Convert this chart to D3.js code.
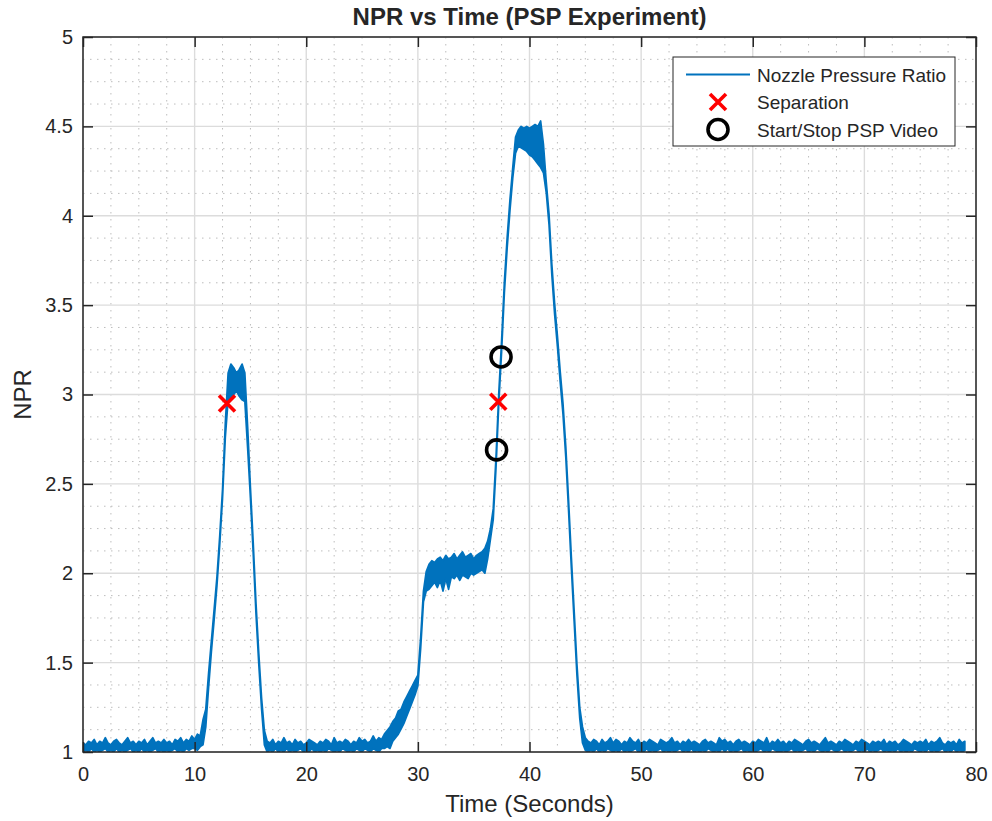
<!DOCTYPE html>
<html>
<head>
<meta charset="utf-8">
<script src="https://cdn.jsdelivr.net/npm/d3@7"></script>
<style>
  body { margin: 0; background: #fff; }
  svg { display: block; }
  text { font-family: "Liberation Sans", Arial, Helvetica, sans-serif; fill: #262626; }
</style>
</head>
<body>
<svg id="chart" width="992" height="821"></svg>
<script>
// ---- Data -----------------------------------------------------------------
// NPR trace sampled every 0.25 s from t = 0 s; each sample gives the low and
// high edge of the measured (noisy) signal within that interval.
const sampleStart = 0;
const sampleStep = 0.25;

const nprLow = [
  1.00,1.01,1.00,1.02,1.00,1.01,1.00,1.01,1.02,1.00,   // 0 - 2.25 s
  1.01,1.00,1.02,1.00,1.01,1.00,1.01,1.02,1.00,1.01,   // 2.5 - 4.75
  1.00,1.02,1.00,1.01,1.00,1.01,1.02,1.00,1.01,1.00,   // 5 - 7.25
  1.01,1.00,1.01,1.02,1.00,1.01,1.00,1.02,1.01,1.02,   // 7.5 - 9.75
  1.02,1.01,1.03,1.04,1.14,1.36,1.56,1.74,1.93,2.16,   // 10 - 12.25
  2.42,2.76,2.97,2.98,3.00,3.02,2.99,2.97,2.96,2.70,   // 12.5 - 14.75
  2.42,2.11,1.77,1.49,1.24,1.04,1.00,1.01,1.00,1.02,   // 15 - 17.25
  1.00,1.01,1.00,1.02,1.00,1.01,1.00,1.01,1.02,1.00,   // 17.5 - 19.75
  1.01,1.00,1.02,1.00,1.01,1.00,1.01,1.00,1.02,1.01,   // 20 - 22.25
  1.00,1.01,1.00,1.02,1.01,1.00,1.01,1.00,1.02,1.01,   // 22.5 - 24.75
  1.00,1.02,1.01,1.00,1.02,1.01,1.00,1.02,1.02,1.03,   // 25 - 27.25
  1.02,1.06,1.08,1.10,1.13,1.16,1.20,1.24,1.28,1.32,   // 27.5 - 29.75
  1.37,1.58,1.84,1.90,1.91,1.93,1.95,1.92,1.96,1.90,   // 30 - 32.25
  1.97,1.91,1.98,1.97,1.99,1.96,1.99,1.98,1.97,2.00,   // 32.5 - 34.75
  1.99,2.00,2.01,2.02,2.00,2.08,2.19,2.30,2.59,2.95,   // 35 - 37.25
  3.24,3.57,3.82,4.03,4.21,4.35,4.39,4.38,4.37,4.36,   // 37.5 - 39.75
  4.34,4.33,4.31,4.29,4.27,4.24,4.13,3.95,3.67,3.45,   // 40 - 42.25
  3.27,3.07,2.89,2.65,2.35,2.03,1.73,1.43,1.19,1.05,   // 42.5 - 44.75
  1.01,1.00,1.01,1.00,1.02,1.00,1.01,1.00,1.02,1.01,   // 45 - 47.25
  1.00,1.01,1.00,1.02,1.00,1.01,1.00,1.01,1.02,1.00,   // 47.5 - 49.75
  1.01,1.00,1.02,1.00,1.01,1.00,1.01,1.02,1.00,1.01,   // 50 - 52.25
  1.00,1.01,1.00,1.01,1.02,1.00,1.01,1.00,1.02,1.00,   // 52.5 - 54.75
  1.01,1.00,1.01,1.00,1.02,1.01,1.00,1.01,1.00,1.02,   // 55 - 57.25
  1.00,1.02,1.00,1.01,1.00,1.01,1.02,1.00,1.01,1.00,   // 57.5 - 59.75
  1.01,1.00,1.01,1.02,1.00,1.01,1.00,1.02,1.01,1.00,   // 60 - 62.25
  1.00,1.01,1.00,1.01,1.02,1.00,1.01,1.00,1.01,1.02,   // 62.5 - 64.75
  1.00,1.01,1.00,1.02,1.01,1.00,1.01,1.00,1.02,1.01,   // 65 - 67.25
  1.00,1.01,1.02,1.00,1.01,1.00,1.01,1.02,1.00,1.01,   // 67.5 - 69.75
  1.00,1.02,1.00,1.01,1.00,1.01,1.02,1.00,1.01,1.00,   // 70 - 72.25
  1.01,1.00,1.02,1.00,1.01,1.00,1.01,1.00,1.02,1.01,   // 72.5 - 74.75
  1.00,1.01,1.00,1.02,1.00,1.01,1.00,1.01,1.02,1.00,   // 75 - 77.25
  1.01,1.00,1.02,1.00,1.01,1.00,1.01                   // 77.5 - 79
];

const nprHigh = [
  1.05,1.04,1.06,1.05,1.07,1.04,1.06,1.05,1.08,1.05,   // 0 - 2.25 s
  1.04,1.06,1.07,1.05,1.04,1.06,1.08,1.05,1.06,1.04,   // 2.5 - 4.75
  1.06,1.05,1.07,1.04,1.06,1.08,1.05,1.06,1.05,1.07,   // 5 - 7.25
  1.05,1.06,1.04,1.07,1.06,1.08,1.05,1.07,1.06,1.09,   // 7.5 - 9.75
  1.07,1.10,1.09,1.18,1.24,1.44,1.62,1.80,1.98,2.21,   // 10 - 12.25
  2.47,2.84,3.12,3.17,3.15,3.12,3.14,3.17,3.12,2.82,   // 12.5 - 14.75
  2.48,2.17,1.83,1.55,1.30,1.12,1.06,1.05,1.07,1.04,   // 15 - 17.25
  1.06,1.05,1.08,1.05,1.06,1.04,1.07,1.05,1.06,1.04,   // 17.5 - 19.75
  1.05,1.07,1.06,1.05,1.04,1.06,1.05,1.07,1.06,1.04,   // 20 - 22.25
  1.08,1.05,1.06,1.05,1.07,1.06,1.04,1.06,1.05,1.08,   // 22.5 - 24.75
  1.06,1.07,1.05,1.06,1.09,1.06,1.08,1.07,1.10,1.12,   // 25 - 27.25
  1.14,1.17,1.19,1.23,1.24,1.28,1.31,1.34,1.37,1.40,   // 27.5 - 29.75
  1.43,1.64,1.90,2.01,2.05,2.07,2.06,2.08,2.09,2.07,   // 30 - 32.25
  2.10,2.08,2.09,2.11,2.08,2.10,2.12,2.09,2.10,2.11,   // 32.5 - 34.75
  2.08,2.10,2.11,2.12,2.14,2.18,2.25,2.36,2.65,3.01,   // 35 - 37.25
  3.30,3.63,3.88,4.09,4.27,4.44,4.48,4.50,4.49,4.50,   // 37.5 - 39.75
  4.49,4.50,4.51,4.50,4.53,4.40,4.19,4.01,3.73,3.51,   // 40 - 42.25
  3.33,3.13,2.95,2.71,2.41,2.09,1.79,1.49,1.25,1.14,   // 42.5 - 44.75
  1.08,1.06,1.05,1.07,1.06,1.04,1.07,1.05,1.06,1.08,   // 45 - 47.25
  1.05,1.07,1.06,1.04,1.06,1.05,1.08,1.06,1.05,1.07,   // 47.5 - 49.75
  1.04,1.06,1.05,1.07,1.06,1.05,1.04,1.07,1.06,1.05,   // 50 - 52.25
  1.06,1.08,1.05,1.06,1.04,1.06,1.05,1.07,1.05,1.06,   // 52.5 - 54.75
  1.05,1.04,1.06,1.07,1.05,1.06,1.05,1.04,1.08,1.06,   // 55 - 57.25
  1.07,1.05,1.06,1.04,1.06,1.07,1.05,1.06,1.05,1.04,   // 57.5 - 59.75
  1.06,1.05,1.07,1.06,1.05,1.08,1.04,1.06,1.05,1.07,   // 60 - 62.25
  1.05,1.06,1.04,1.06,1.05,1.07,1.06,1.05,1.04,1.06,   // 62.5 - 64.75
  1.07,1.05,1.06,1.05,1.04,1.06,1.08,1.05,1.06,1.05,   // 65 - 67.25
  1.04,1.06,1.05,1.07,1.06,1.05,1.04,1.06,1.05,1.07,   // 67.5 - 69.75
  1.06,1.05,1.04,1.06,1.05,1.06,1.05,1.07,1.04,1.06,   // 70 - 72.25
  1.05,1.06,1.04,1.05,1.07,1.06,1.05,1.04,1.06,1.05,   // 72.5 - 74.75
  1.06,1.05,1.07,1.04,1.06,1.05,1.06,1.08,1.05,1.04,   // 75 - 77.25
  1.06,1.05,1.06,1.04,1.07,1.05,1.06                   // 77.5 - 79
];

// Event markers
const separationTime = [12.9, 37.2];
const separationNpr  = [2.95, 2.96];
const videoTime = [37.05, 37.45];
const videoNpr  = [2.69, 3.21];

// Axes
const xTicks = [0, 10, 20, 30, 40, 50, 60, 70, 80];
const yTicks = [1, 1.5, 2, 2.5, 3, 3.5, 4, 4.5, 5];
const xMinorStep = 2.5;
const yMinorStep = 0.125;

const legendLabels = ["Nozzle Pressure Ratio", "Separation", "Start/Stop PSP Video"];

// ---- Layout ---------------------------------------------------------------
const plot = { left: 83, right: 976, top: 37, bottom: 752 };
const lineColor = "#0072bd";
const inkColor = "#262626";

const svg = d3.select("#chart");
const x = d3.scaleLinear().domain([0, 80]).range([plot.left, plot.right]);
const y = d3.scaleLinear().domain([1, 5]).range([plot.bottom, plot.top]);

// plot background
svg.append("rect")
  .attr("x", plot.left).attr("y", plot.top)
  .attr("width", plot.right - plot.left).attr("height", plot.bottom - plot.top)
  .attr("fill", "#fff");

// minor grid (dotted)
const isMajor = (v, ticks) => ticks.some(t => Math.abs(t - v) < 1e-9);
const xMinor = d3.range(0, 80 + 1e-9, xMinorStep).filter(v => !isMajor(v, xTicks));
const yMinor = d3.range(1, 5 + 1e-9, yMinorStep).filter(v => !isMajor(v, yTicks));

const grid = svg.append("g").attr("class", "grid");
grid.selectAll("line.xminor").data(xMinor).join("line")
  .attr("class", "xminor")
  .attr("x1", d => x(d)).attr("x2", d => x(d))
  .attr("y1", plot.top).attr("y2", plot.bottom)
  .attr("stroke", "#bdbdbd").attr("stroke-width", 1)
  .attr("stroke-dasharray", "1.5,5.5");
grid.selectAll("line.yminor").data(yMinor).join("line")
  .attr("class", "yminor")
  .attr("x1", plot.left).attr("x2", plot.right)
  .attr("y1", d => y(d)).attr("y2", d => y(d))
  .attr("stroke", "#bdbdbd").attr("stroke-width", 1)
  .attr("stroke-dasharray", "1.5,5.5");

// major grid (solid, light)
grid.selectAll("line.xmajor").data(xTicks).join("line")
  .attr("class", "xmajor")
  .attr("x1", d => x(d)).attr("x2", d => x(d))
  .attr("y1", plot.top).attr("y2", plot.bottom)
  .attr("stroke", "#dcdcdc").attr("stroke-width", 1.4);
grid.selectAll("line.ymajor").data(yTicks).join("line")
  .attr("class", "ymajor")
  .attr("x1", plot.left).attr("x2", plot.right)
  .attr("y1", d => y(d)).attr("y2", d => y(d))
  .attr("stroke", "#dcdcdc").attr("stroke-width", 1.4);

// ---- NPR trace ------------------------------------------------------------
// The noisy trace is drawn as the band between its low and high edges,
// outlined with the same colour so ramps read as a solid line.
const traceRows = nprLow.map((lo, i) => ({
  t: sampleStart + i * sampleStep,
  lo: lo,
  hi: nprHigh[i]
}));

svg.append("defs").append("clipPath").attr("id", "plotClip")
  .append("rect")
  .attr("x", plot.left).attr("y", plot.top)
  .attr("width", plot.right - plot.left).attr("height", plot.bottom - plot.top);

const band = d3.area()
  .x(d => x(d.t))
  .y0(d => y(d.lo))
  .y1(d => y(d.hi));

svg.append("path")
  .datum(traceRows)
  .attr("clip-path", "url(#plotClip)")
  .attr("fill", lineColor)
  .attr("stroke", lineColor)
  .attr("stroke-width", 1.7)
  .attr("stroke-linejoin", "round")
  .attr("d", band);

// ---- Markers --------------------------------------------------------------
const crossPath = s => `M${-s},${-s}L${s},${s}M${-s},${s}L${s},${-s}`;

svg.append("g").selectAll("path")
  .data(separationTime.map((t, i) => [t, separationNpr[i]]))
  .join("path")
  .attr("transform", d => `translate(${x(d[0])},${y(d[1])})`)
  .attr("d", crossPath(8))
  .attr("fill", "none").attr("stroke", "#ff0000").attr("stroke-width", 3.6);

svg.append("g").selectAll("circle")
  .data(videoTime.map((t, i) => [t, videoNpr[i]]))
  .join("circle")
  .attr("cx", d => x(d[0])).attr("cy", d => y(d[1])).attr("r", 10)
  .attr("fill", "none").attr("stroke", "#000").attr("stroke-width", 3.6);

// ---- Axes -----------------------------------------------------------------
const tickFont = 20;
function styleAxis(g) {
  g.select(".domain").remove();
  g.selectAll(".tick line").attr("stroke", inkColor).attr("stroke-width", 1.5);
  g.selectAll(".tick text")
    .attr("fill", inkColor)
    .style("font-family", '"Liberation Sans", Arial, Helvetica, sans-serif')
    .style("font-size", tickFont + "px");
}

svg.append("g")
  .attr("transform", `translate(0,${plot.bottom})`)
  .call(d3.axisBottom(x).tickValues(xTicks).tickSize(-10).tickPadding(15).tickFormat(d3.format("d")))
  .call(styleAxis);
svg.append("g")
  .attr("transform", `translate(0,${plot.top})`)
  .call(d3.axisTop(x).tickValues(xTicks).tickSize(-10).tickFormat(""))
  .call(styleAxis);
svg.append("g")
  .attr("transform", `translate(${plot.left},0)`)
  .call(d3.axisLeft(y).tickValues(yTicks).tickSize(-10).tickPadding(10).tickFormat(d => String(d)))
  .call(styleAxis);
svg.append("g")
  .attr("transform", `translate(${plot.right},0)`)
  .call(d3.axisRight(y).tickValues(yTicks).tickSize(-10).tickFormat(""))
  .call(styleAxis);

// axes box
svg.append("rect")
  .attr("x", plot.left).attr("y", plot.top)
  .attr("width", plot.right - plot.left).attr("height", plot.bottom - plot.top)
  .attr("fill", "none").attr("stroke", inkColor).attr("stroke-width", 1.5);

// ---- Titles ---------------------------------------------------------------
const midX = (plot.left + plot.right) / 2;
svg.append("text")
  .attr("x", midX).attr("y", 25)
  .attr("text-anchor", "middle")
  .style("font-size", "24px").style("font-weight", "bold")
  .attr("fill", "#000")
  .text("NPR vs Time (PSP Experiment)");

svg.append("text")
  .attr("x", midX).attr("y", 812)
  .attr("text-anchor", "middle")
  .style("font-size", "24px")
  .text("Time (Seconds)");

svg.append("text")
  .attr("transform", `translate(31,${(plot.top + plot.bottom) / 2}) rotate(-90)`)
  .attr("text-anchor", "middle")
  .style("font-size", "24px")
  .text("NPR");

// ---- Legend ---------------------------------------------------------------
const legend = svg.append("g").attr("transform", "translate(673,57)");
legend.append("rect")
  .attr("width", 282).attr("height", 89)
  .attr("fill", "#fff").attr("stroke", inkColor).attr("stroke-width", 1);

const rowY = [17.5, 45, 72.5];
const symX = 45;

legend.append("line")
  .attr("x1", 13).attr("x2", 77).attr("y1", rowY[0]).attr("y2", rowY[0])
  .attr("stroke", lineColor).attr("stroke-width", 2);
legend.append("path")
  .attr("transform", `translate(${symX},${rowY[1]})`)
  .attr("d", crossPath(8))
  .attr("fill", "none").attr("stroke", "#ff0000").attr("stroke-width", 3.6);
legend.append("circle")
  .attr("cx", symX).attr("cy", rowY[2]).attr("r", 10)
  .attr("fill", "none").attr("stroke", "#000").attr("stroke-width", 3.6);

legend.selectAll("text.lab").data(legendLabels).join("text")
  .attr("class", "lab")
  .attr("x", 84).attr("y", (d, i) => rowY[i] + 7)
  .style("font-size", "19px")
  .attr("fill", "#000")
  .text(d => d);
</script>
</body>
</html>
